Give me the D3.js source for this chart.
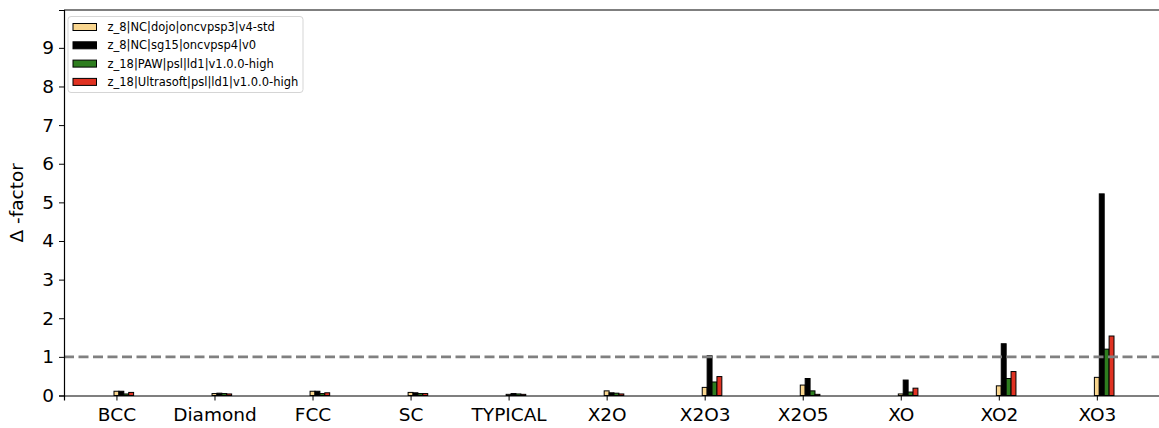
<!DOCTYPE html>
<html>
<head>
<meta charset="utf-8">
<script src="https://cdn.jsdelivr.net/npm/d3@7"></script>
<style>
  body { margin: 0; background: #fff; }
  svg { display: block; font-family: "DejaVu Sans", sans-serif; }
</style>
</head>
<body>
<svg id="chart" width="1159" height="428"></svg>
<script>
// categories and series values
var categories = ['BCC', 'Diamond', 'FCC', 'SC', 'TYPICAL', 'X2O', 'X2O3', 'X2O5', 'XO', 'XO2', 'XO3'];
var series_names = ['z_8|NC|dojo|oncvpsp3|v4-std', 'z_8|NC|sg15|oncvpsp4|v0',
	'z_18|PAW|psl|ld1|v1.0.0-high', 'z_18|Ultrasoft|psl|ld1|v1.0.0-high'];
var series_colors = ['#f9d68f', '#000000', '#2e7d1f', '#e03222'];
var dojo_vals = [0.11, 0.05, 0.11, 0.08, 0.03, 0.12, 0.21, 0.27, 0.04, 0.25, 0.47];
var sg15_vals = [0.11, 0.06, 0.11, 0.07, 0.05, 0.07, 1.03, 0.44, 0.40, 1.34, 5.22];
var paw_vals = [0.04, 0.05, 0.05, 0.05, 0.04, 0.06, 0.35, 0.12, 0.09, 0.44, 1.20];
var us_vals = [0.08, 0.04, 0.07, 0.05, 0.03, 0.04, 0.49, 0.03, 0.19, 0.62, 1.54];
var y_ticks = [0, 1, 2, 3, 4, 5, 6, 7, 8, 9];
var threshold = 1;

var all_series = [dojo_vals, sg15_vals, paw_vals, us_vals];
var bar_w = 0.05;

var svg = d3.select('#chart');
var plot_left = 64, plot_top = 10, plot_bottom = 395.5, plot_right = 1164;

// x in category units, like matplotlib's auto margins
var x = d3.scaleLinear().domain([-0.535, 10.685]).range([plot_left, plot_right]);
var y = d3.scaleLinear().domain([0, 9.98]).range([plot_bottom, plot_top]);

// bars
all_series.forEach(function(vals, s) {
	svg.append('g').selectAll('rect')
		.data(vals)
		.enter().append('rect')
		.attr('x', function(d, i) { return x(i + s * bar_w - bar_w / 2); })
		.attr('width', x(bar_w) - x(0))
		.attr('y', function(d) { return y(d); })
		.attr('height', function(d) { return y(0) - y(d); })
		.attr('fill', series_colors[s])
		.attr('stroke', '#000')
		.attr('stroke-width', 1);
});

// threshold line
svg.append('line')
	.attr('x1', plot_left).attr('x2', plot_right)
	.attr('y1', y(threshold)).attr('y2', y(threshold))
	.attr('stroke', '#808080')
	.attr('stroke-width', 2.6)
	.attr('stroke-dasharray', '10,4.5');

// axes
var xAxis = svg.append('g')
	.attr('transform', 'translate(0,' + plot_bottom + ')')
	.call(d3.axisBottom(x).tickValues(d3.range(categories.length))
		.tickFormat(function(d) { return categories[d]; }).tickSizeOuter(0).tickSize(5).tickPadding(5));
var yAxis = svg.append('g')
	.attr('transform', 'translate(' + plot_left + ',0)')
	.call(d3.axisLeft(y).tickValues(y_ticks).tickSizeOuter(0).tickSize(5).tickPadding(5));

[xAxis, yAxis].forEach(function(a) {
	a.select('.domain').attr('stroke', '#000').attr('stroke-width', 1.2);
	a.selectAll('.tick line').attr('stroke', '#000').attr('stroke-width', 1);
	a.selectAll('.tick text').attr('fill', '#000').style('font-size', '18.5px').style('font-family', '"DejaVu Sans", sans-serif');
});
xAxis.selectAll('.tick text').attr('dy', '0.85em');

// top spine
svg.append('line')
	.attr('x1', plot_left).attr('x2', plot_right)
	.attr('y1', plot_top).attr('y2', plot_top)
	.attr('stroke', '#000').attr('stroke-width', 1.2);

// y label
svg.append('text')
	.attr('transform', 'translate(23,' + ((plot_top + plot_bottom) / 2) + ') rotate(-90)')
	.attr('text-anchor', 'middle')
	.style('font-size', '18.5px')
	.text('Δ -factor');

// legend
var lg = svg.append('g').attr('transform', 'translate(68,16.5)');
lg.append('rect')
	.attr('width', 235).attr('height', 76).attr('rx', 3)
	.attr('fill', '#fff').attr('fill-opacity', 0.8)
	.attr('stroke', '#d5d5d5');
series_names.forEach(function(name, i) {
	var row = lg.append('g').attr('transform', 'translate(5,' + (10.5 + i * 18.3) + ')');
	row.append('rect')
		.attr('x', 0).attr('y', -3.5).attr('width', 23.5).attr('height', 7)
		.attr('fill', series_colors[i]).attr('stroke', '#000');
	row.append('text')
		.attr('x', 34.5).attr('y', 4)
		.style('font-size', '11.5px')
		.text(name);
});
</script>
</body>
</html>
